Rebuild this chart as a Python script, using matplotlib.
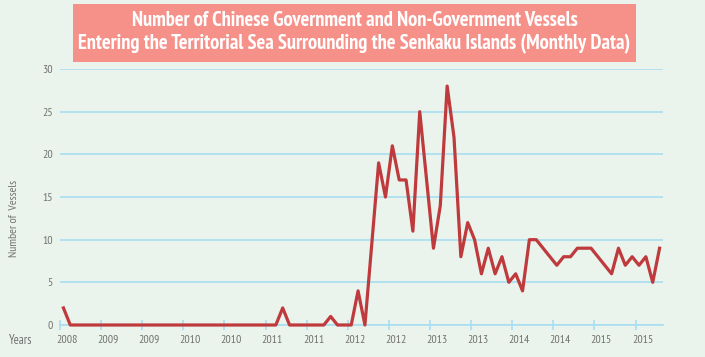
import matplotlib
matplotlib.use("Agg")
import matplotlib.pyplot as plt
from matplotlib.patches import Rectangle

plt.rcParams["font.family"] = ["PT Sans Narrow", "Roboto Condensed", "DejaVu Sans"]

# month index 0 = Dec 2008; months missing from the chart are simply absent
months = ["2008-12", "2009-01", "2011-07", "2011-08", "2011-09", "2012-02",
          "2012-03", "2012-04", "2012-06", "2012-07", "2012-08", "2012-10",
          "2012-11", "2012-12", "2013-01", "2013-02", "2013-03", "2013-04",
          "2013-05", "2013-06", "2013-07", "2013-08", "2013-09", "2013-10",
          "2013-11", "2013-12", "2014-01", "2014-02", "2014-03", "2014-04",
          "2014-05", "2014-06", "2014-07", "2014-08", "2014-09", "2014-12",
          "2015-01", "2015-02", "2015-03", "2015-05", "2015-08", "2015-09",
          "2015-10", "2015-11", "2015-12", "2016-01", "2016-02", "2016-03"]
vessels = [2, 0, 0, 2, 0, 0,
           1, 0, 0, 4, 0, 19,
           15, 21, 17, 17, 11, 25,
           17, 9, 14, 28, 22, 8,
           12, 10, 6, 9, 6, 8,
           5, 6, 4, 10, 10, 7,
           8, 8, 9, 9, 6, 9,
           7, 8, 7, 8, 5, 9]
year_labels = ["2008", "2009", "2009", "2010", "2010", "2011", "2011", "2012",
               "2012", "2013", "2013", "2014", "2014", "2015", "2015"]
y_ticks = [0, 5, 10, 15, 20, 25, 30]
title_lines = ["Number of Chinese Government and Non-Government Vessels",
               "Entering the Territorial Sea Surrounding the Senkaku Islands (Monthly Data)"]

BG = "#eaf3ec"
GRID = "#a9def0"
LINE = "#bf3a3c"
TEXT = "#727272"


def month_index(s):
    y, m = s.split("-")
    return (int(y) - 2008) * 12 + int(m) - 12


x = [month_index(m) for m in months]

fig = plt.figure(figsize=(7.05, 3.57), dpi=100, facecolor=BG)
ax = fig.add_axes([60 / 705, 1 - 325 / 357, 603 / 705, 256 / 357])
ax.set_facecolor(BG)

ax.set_xlim(-0.5, 87.5)
ax.set_ylim(0, 30)
ax.set_yticks(y_ticks)
ax.yaxis.grid(True, color=GRID, lw=1.2)
ax.set_axisbelow(True)
for side in ["top", "right", "left"]:
    ax.spines[side].set_visible(False)
ax.spines["bottom"].set_color(GRID)
ax.spines["bottom"].set_linewidth(1.2)
ax.tick_params(axis="y", length=0, pad=5, labelsize=8.5, labelcolor=TEXT)

# tick marks between half-years, year labels shifted half a step
ax.set_xticks([6 * i - 0.5 for i in range(len(year_labels))])
ax.set_xticklabels([])
ax.set_xticks([6 * i + 0.5 for i in range(len(year_labels))], minor=True)
ax.set_xticklabels(year_labels, minor=True)
ax.tick_params(axis="x", which="major", direction="inout", length=7,
               width=1.2, color=GRID)
ax.tick_params(axis="x", which="minor", length=0, pad=7, labelsize=8.5,
               labelcolor=TEXT)

ax.plot(x, vessels, color=LINE, lw=2.3, clip_on=False, zorder=3)

fig.text(21 / 705, 1 - 340 / 357, "Years", ha="center", va="center",
         fontsize=9, color=TEXT)
fig.text(14 / 705, 1 - 218 / 357, "Number of  Vessels", ha="center",
         va="center", rotation=90, fontsize=8.5, color=TEXT)

fig.patches.append(Rectangle((73 / 705, 1 - 62 / 357), 563 / 705, 58 / 357,
                             transform=fig.transFigure, facecolor="#f6918a",
                             edgecolor="none", zorder=0))
titles = []
for text, ypix in zip(title_lines, [20.5, 44]):
    titles.append(fig.text(354.5 / 705, 1 - ypix / 357, text, ha="center",
                           va="center", fontsize=14.8, fontweight="bold",
                           color="white"))

# shrink the title if the narrow font is not available
renderer = fig.canvas.get_renderer()
w = titles[1].get_window_extent(renderer).width
if w > 556:
    for t in titles:
        t.set_fontsize(14.8 * 556 / w)

fig.savefig("out.png", dpi=100, facecolor=BG)
